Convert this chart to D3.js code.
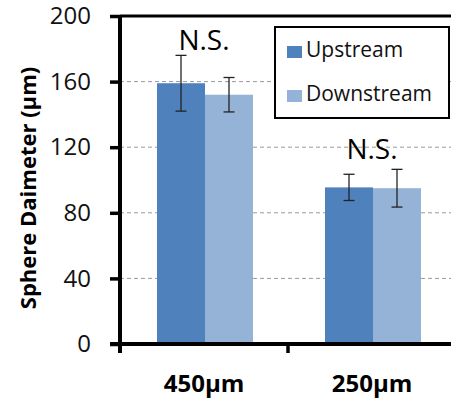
<!DOCTYPE html>
<html>
<head>
  <meta charset="UTF-8">
  <script src="https://d3js.org/d3.v7.min.js"></script>
  <style>
    body { margin: 0; background: #fff; }
    text { font-family: "Open Sans", sans-serif; }
  </style>
</head>
<body>
  <svg width="451" height="404"></svg>
  <script>
    // data
    const categories = ['450µm', '250µm'];
    const seriesNames = ['Upstream', 'Downstream'];
    const upstream = [159, 95.5];
    const downstream = [152, 95];
    const upstreamErr = [17, 8];
    const downstreamErr = [10.5, 11.5];
    const yTicks = [0, 40, 80, 120, 160, 200];
    const colors = ['#4f81bd', '#95b3d7'];
    // level (in axis units) where each "N.S." label sits
    const nsLevel = [179, 113];

    const rows = categories.map((c, i) => ({
      cat: c,
      ns: nsLevel[i],
      values: [
        { key: seriesNames[0], v: upstream[i], e: upstreamErr[i] },
        { key: seriesNames[1], v: downstream[i], e: downstreamErr[i] }
      ]
    }));

    const svg = d3.select('svg');

    // scales
    const x = d3.scaleBand().domain(categories).range([120, 456]).padding(0);
    const x1 = d3.scaleBand().domain(seriesNames).range([37, 133]).padding(0);
    const y = d3.scaleLinear().domain([0, 200]).range([344, 16]);

    // gridlines
    svg.append('g')
      .selectAll('line')
      .data(yTicks.filter(t => t > 0 && t < 200))
      .enter().append('line')
        .attr('x1', 120).attr('x2', 451)
        .attr('y1', d => y(d)).attr('y2', d => y(d))
        .attr('stroke', '#999')
        .attr('stroke-width', 1)
        .attr('stroke-dasharray', '4,3');

    // bars
    const groups = svg.append('g')
      .selectAll('g')
      .data(rows)
      .enter().append('g')
        .attr('transform', d => `translate(${x(d.cat)},0)`);

    groups.selectAll('rect')
      .data(d => d.values)
      .enter().append('rect')
        .attr('x', d => x1(d.key))
        .attr('width', x1.bandwidth())
        .attr('y', d => y(d.v))
        .attr('height', d => y(0) - y(d.v))
        .attr('fill', (d, i) => colors[i]);

    // error bars
    const err = groups.selectAll('g.err')
      .data(d => d.values)
      .enter().append('g')
        .attr('class', 'err')
        .attr('stroke', '#222')
        .attr('stroke-width', 1.3);

    const cx = d => x1(d.key) + x1.bandwidth() / 2;
    err.append('line')
      .attr('x1', cx).attr('x2', cx)
      .attr('y1', d => y(d.v + d.e)).attr('y2', d => y(d.v - d.e));
    err.append('line')
      .attr('x1', d => cx(d) - 5.5).attr('x2', d => cx(d) + 5.5)
      .attr('y1', d => y(d.v + d.e)).attr('y2', d => y(d.v + d.e));
    err.append('line')
      .attr('x1', d => cx(d) - 5.5).attr('x2', d => cx(d) + 5.5)
      .attr('y1', d => y(d.v - d.e)).attr('y2', d => y(d.v - d.e));

    // N.S. labels
    groups.append('text')
      .attr('x', x.bandwidth() / 2)
      .attr('y', d => y(d.ns))
      .attr('text-anchor', 'middle')
      .attr('font-size', '28px')
      .attr('fill', '#000')
      .text('N.S.');

    // top frame line
    svg.append('line')
      .attr('x1', 120).attr('x2', 451)
      .attr('y1', y(200)).attr('y2', y(200))
      .attr('stroke', '#000').attr('stroke-width', 3);

    // y axis
    const yAxis = svg.append('g')
      .attr('transform', 'translate(120,0)')
      .call(d3.axisLeft(y).tickValues(yTicks).tickSize(10).tickPadding(19));
    yAxis.select('.domain').attr('stroke-width', 4).attr('d', `M0,${y(0) + 9}V${y(200)}`);
    yAxis.selectAll('.tick line').attr('stroke-width', 3.5);
    yAxis.selectAll('.tick text')
      .attr('font-size', '24px')
      .attr('font-family', '"Open Sans", sans-serif')
      .attr('fill', '#111');

    // x axis
    const xAxis = svg.append('g')
      .attr('transform', `translate(0,${y(0)})`)
      .call(d3.axisBottom(x).tickSize(0).tickPadding(31));
    xAxis.select('.domain').attr('stroke-width', 4).attr('d', 'M110,0H456');
    xAxis.selectAll('.tick text')
      .attr('font-size', '24px')
      .attr('font-weight', 'bold')
      .attr('font-family', '"Open Sans", sans-serif')
      .attr('fill', '#000');
    // tick between the categories
    xAxis.append('line')
      .attr('x1', x(categories[1])).attr('x2', x(categories[1]))
      .attr('y1', 0).attr('y2', 9)
      .attr('stroke', '#000').attr('stroke-width', 3.5);

    // y axis title
    svg.append('text')
      .attr('transform', `translate(36,${(y(0) + y(200)) / 2 + 8}) rotate(-90)`)
      .attr('text-anchor', 'middle')
      .attr('font-size', '22px')
      .attr('font-weight', 'bold')
      .attr('fill', '#000')
      .text('Sphere Daimeter (µm)');

    // legend
    const legend = svg.append('g');
    legend.append('rect')
      .attr('x', 275).attr('y', 27)
      .attr('width', 174).attr('height', 91)
      .attr('fill', '#fff')
      .attr('stroke', '#000').attr('stroke-width', 2);

    const items = legend.selectAll('g.item')
      .data(seriesNames)
      .enter().append('g')
        .attr('class', 'item')
        .attr('transform', (d, i) => `translate(287,${46 + i * 44})`);
    items.append('rect')
      .attr('width', 15).attr('height', 12)
      .attr('fill', (d, i) => colors[i]);
    items.append('text')
      .attr('x', 19).attr('y', 11)
      .attr('font-size', '21px')
      .attr('fill', '#111')
      .text(d => d);
  </script>
</body>
</html>
